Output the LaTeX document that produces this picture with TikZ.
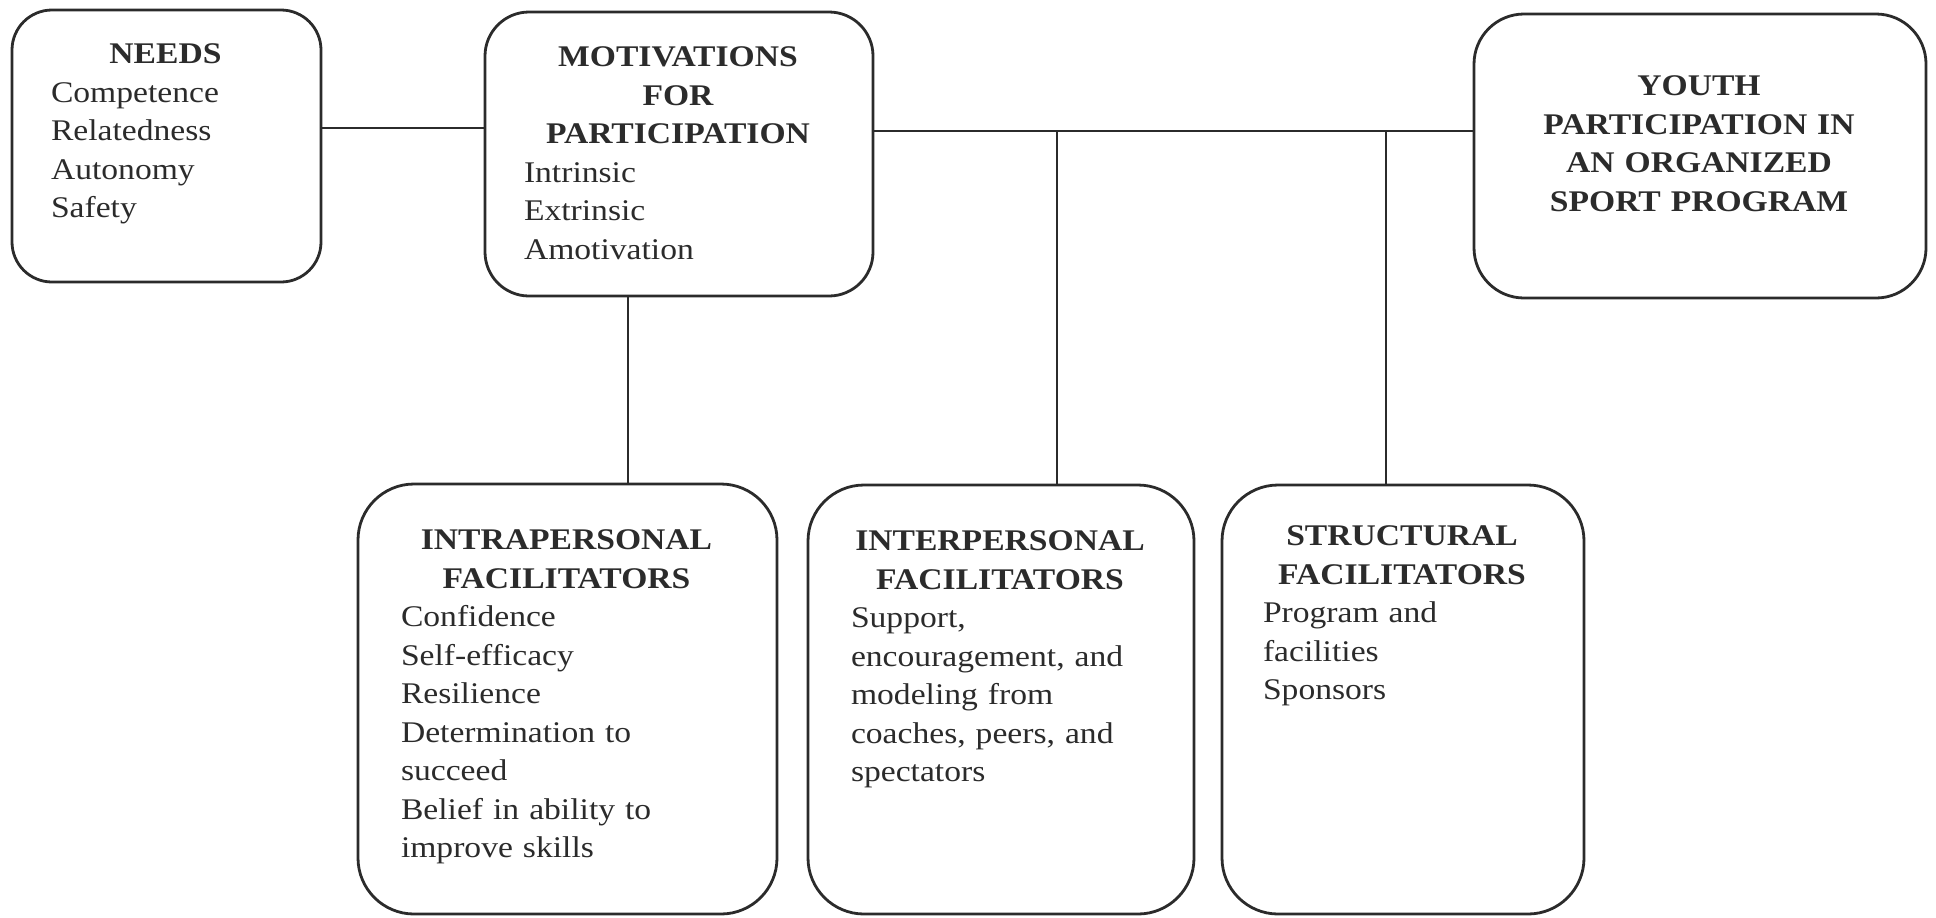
\documentclass[tikz,border=0pt]{standalone}
\usepackage{fontspec}
\setmainfont{Liberation Serif}[FakeStretch=1.12]
\usepackage{tikz}
\usetikzlibrary{positioning}
\definecolor{ink}{HTML}{2B2B2B}
\newcommand{\hd}[1]{\makebox[\hsize]{\bfseries #1}}

\begin{document}
\begin{tikzpicture}[x=0.5pt, y=-0.5pt,
  every node/.style={font=\fontsize{15pt}{19.25pt}\selectfont, text=ink},
  box/.style={draw=ink, line width=1.4pt, rounded corners=20pt, inner sep=0pt},
  bigbox/.style={box, rounded corners=28pt},
  txt/.style={inner sep=0pt, align=left},
  link/.style={draw=ink, line width=1.1pt}]
\useasboundingbox (0,0) rectangle (1936,917);

% top row
\node[box, minimum width=154.5pt, minimum height=136pt] (needs) at (166.5,146) {};
\node[box, rounded corners=22pt, minimum width=194pt, minimum height=142pt] (motiv) at (679,154) {};
\node[box, rounded corners=25pt, minimum width=226pt, minimum height=142pt] (youth) at (1700,156) {};

\node[txt, text width=114.5pt, below right=17.5pt and 20pt of needs.north west] (needs-t)
  {\hd{NEEDS}\\Competence\\Relatedness\\Autonomy\\Safety};
\node[txt, text width=154pt, below right=18pt and 20pt of motiv.north west] (motiv-t)
  {\hd{MOTIVATIONS}\\\hd{FOR}\\\hd{PARTICIPATION}\\Intrinsic\\Extrinsic\\Amotivation};
\node[txt, text width=186pt, below right=31.5pt and 20pt of youth.north west] (youth-t)
  {\hd{YOUTH}\\\hd{PARTICIPATION IN}\\\hd{AN ORGANIZED}\\\hd{SPORT PROGRAM}};

% facilitators
\node[bigbox, minimum width=209.5pt, minimum height=215pt] (intra) at (567.5,699) {};
\node[bigbox, minimum width=193pt, minimum height=214.5pt] (inter) at (1001,699.5) {};
\node[bigbox, minimum width=181pt, minimum height=214.5pt] (struct) at (1403,699.5) {};

\node[txt, text width=165.5pt, below right=23.5pt and 22pt of intra.north west] (intra-t)
  {\hd{INTRAPERSONAL}\\\hd{FACILITATORS}\\Confidence\\Self-efficacy\\Resilience\\
   Determination to\\succeed\\Belief in ability to\\improve skills};
\node[txt, text width=149pt, below right=23.5pt and 22pt of inter.north west] (inter-t)
  {\hd{INTERPERSONAL}\\\hd{FACILITATORS}\\Support,\\encouragement, and\\
   modeling from\\coaches, peers, and\\spectators};
\node[txt, text width=139pt, below right=21pt and 21pt of struct.north west] (struct-t)
  {\hd{STRUCTURAL}\\\hd{FACILITATORS}\\Program and\\facilities\\Sponsors};

% connectors
\coordinate (busL) at (0,128);
\coordinate (busR) at (0,131);
\coordinate (dropA) at (628,0);
\coordinate (dropB) at (1057,0);
\coordinate (dropC) at (1386,0);
\draw[link] (needs.east |- busL) -- (motiv.west |- busL);
\draw[link] (motiv.east |- busR) -- (youth.west |- busR);
\draw[link] (motiv.south -| dropA) -- (intra.north -| dropA);
\draw[link] (dropB |- busR) -- (inter.north -| dropB);
\draw[link] (dropC |- busR) -- (struct.north -| dropC);
\end{tikzpicture}
\end{document}
